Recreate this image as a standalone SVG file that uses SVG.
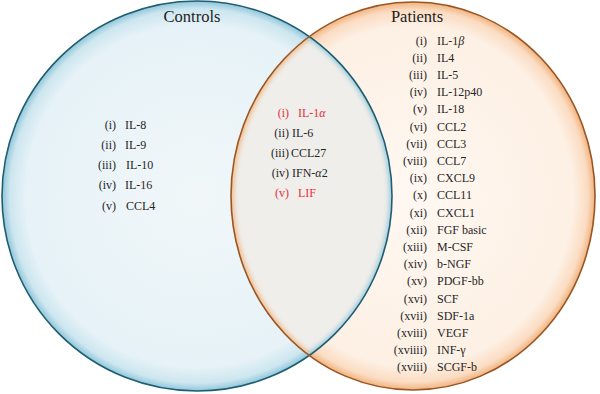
<svg xmlns="http://www.w3.org/2000/svg" width="600" height="394" viewBox="0 0 600 394">
<defs>
<radialGradient id="gBlue" cx="0.5" cy="0.5" r="0.5">
<stop offset="0" stop-color="#f1f7f9"/>
<stop offset="0.88" stop-color="#e6f2f7"/>
<stop offset="0.96" stop-color="#cde6ef"/>
<stop offset="1" stop-color="#8fc6da"/>
</radialGradient>
<radialGradient id="gPeach" cx="0.5" cy="0.5" r="0.5">
<stop offset="0" stop-color="#fff8f2"/>
<stop offset="0.88" stop-color="#fdf0e4"/>
<stop offset="0.96" stop-color="#fbdcc2"/>
<stop offset="1" stop-color="#f0b37f"/>
</radialGradient>
<clipPath id="clipLeft"><circle cx="197" cy="196" r="195"/></clipPath>
<clipPath id="clipRight"><ellipse cx="413" cy="196" rx="182" ry="194"/></clipPath>
<filter id="blur" x="-10%" y="-10%" width="120%" height="120%"><feGaussianBlur stdDeviation="2"/></filter>
</defs>
<style>
text{font-family:"Liberation Serif","Times New Roman",serif;font-size:12px;fill:#262626}
.title{font-size:16.5px;text-anchor:middle;fill:#1e1e1e}
.n{text-anchor:end}
.red{fill:#e8303f}
</style>
<g id="controls">
<circle cx="197" cy="196" r="195" fill="url(#gBlue)"/>
</g>
<g id="patients">
<ellipse cx="413" cy="196" rx="182" ry="194" fill="url(#gPeach)"/>
</g>
<g id="overlap">
<g clip-path="url(#clipLeft)">
<ellipse cx="413" cy="196" rx="182" ry="194" fill="#efeeea"/>
<g clip-path="url(#clipRight)">
<ellipse cx="413" cy="196" rx="182" ry="194" fill="none" stroke="#f2b27a" stroke-width="6" filter="url(#blur)" opacity="0.8"/>
<circle cx="197" cy="196" r="195" fill="none" stroke="#8fc6da" stroke-width="6" filter="url(#blur)" opacity="0.8"/>
</g>
</g>
</g>
<g id="outlines" fill="none" stroke-width="1.6">
<circle cx="197" cy="196" r="195" stroke="#1f5d72"/>
<ellipse cx="413" cy="196" rx="182" ry="194" stroke="#9a5522"/>
</g>
<g id="controls-labels">
<text class="title" x="192" y="22">Controls</text>
<text class="n" x="116" y="129">(i)</text><text x="125" y="129">IL-8</text>
<text class="n" x="116" y="149">(ii)</text><text x="125" y="149">IL-9</text>
<text class="n" x="116" y="169">(iii)</text><text x="126" y="169">IL-10</text>
<text class="n" x="116" y="189">(iv)</text><text x="125" y="189">IL-16</text>
<text class="n" x="116" y="210">(v)</text><text x="126" y="210">CCL4</text>
</g>
<g id="shared-labels">
<text class="n red" x="289" y="117">(i)</text><text class="red" x="298" y="117">IL-1<tspan font-style="italic">α</tspan></text>
<text class="n" x="289" y="137">(ii)</text><text x="292" y="137">IL-6</text>
<text class="n" x="289" y="157">(iii)</text><text x="291" y="157">CCL27</text>
<text class="n" x="289" y="177">(iv)</text><text x="292" y="177">IFN-<tspan font-style="italic">α</tspan>2</text>
<text class="n red" x="289" y="197">(v)</text><text class="red" x="298" y="197">LIF</text>
</g>
<g id="patients-labels">
<text class="title" x="417" y="22">Patients</text>
<text class="n" x="427" y="44.6">(i)</text><text x="437" y="44.6">IL-1<tspan font-style="italic">β</tspan></text>
<text class="n" x="427" y="61.8">(ii)</text><text x="437" y="61.8">IL4</text>
<text class="n" x="427" y="79">(iii)</text><text x="437" y="79">IL-5</text>
<text class="n" x="427" y="96.2">(iv)</text><text x="437" y="96.2">IL-12p40</text>
<text class="n" x="427" y="113.4">(v)</text><text x="437" y="113.4">IL-18</text>
<text class="n" x="427" y="130.6">(vi)</text><text x="437" y="130.6">CCL2</text>
<text class="n" x="427" y="147.8">(vii)</text><text x="437" y="147.8">CCL3</text>
<text class="n" x="427" y="165">(viii)</text><text x="437" y="165">CCL7</text>
<text class="n" x="427" y="182.2">(ix)</text><text x="437" y="182.2">CXCL9</text>
<text class="n" x="427" y="199.4">(x)</text><text x="437" y="199.4">CCL11</text>
<text class="n" x="427" y="216.6">(xi)</text><text x="437" y="216.6">CXCL1</text>
<text class="n" x="427" y="233.8">(xii)</text><text x="437" y="233.8">FGF basic</text>
<text class="n" x="427" y="251">(xiii)</text><text x="437" y="251">M-CSF</text>
<text class="n" x="427" y="268.2">(xiv)</text><text x="437" y="268.2">b-NGF</text>
<text class="n" x="427" y="285.4">(xv)</text><text x="437" y="285.4">PDGF-bb</text>
<text class="n" x="427" y="302.6">(xvi)</text><text x="437" y="302.6">SCF</text>
<text class="n" x="427" y="319.8">(xvii)</text><text x="437" y="319.8">SDF-1a</text>
<text class="n" x="427" y="337">(xviii)</text><text x="437" y="337">VEGF</text>
<text class="n" x="427" y="354.2">(xviiii)</text><text x="437" y="354.2">INF-γ</text>
<text class="n" x="427" y="371.4">(xviii)</text><text x="437" y="371.4">SCGF-b</text>
</g>
</svg>
